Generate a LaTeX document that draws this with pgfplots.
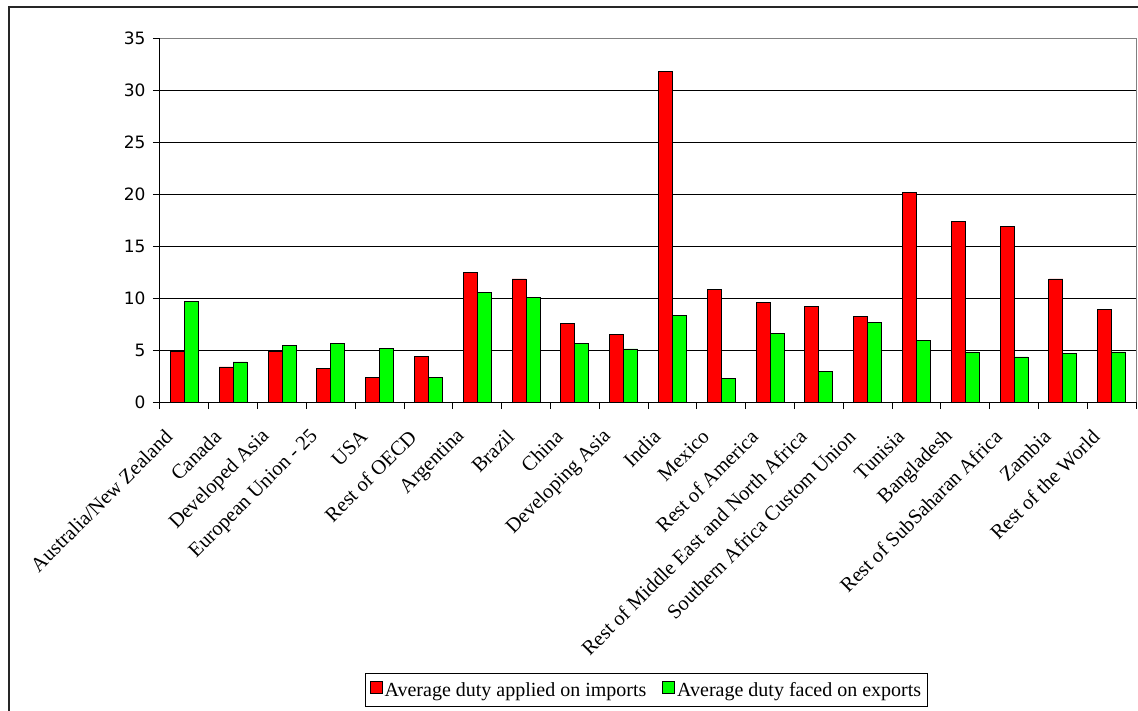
\documentclass[border=0pt]{standalone}
\usepackage{pgfplots}
\pgfplotsset{compat=1.18}
\usepackage{fontspec}
\setmainfont{Liberation Serif}
\newfontfamily\tickfont{DejaVu Sans}
\definecolor{xlred}{HTML}{FF0000}
\definecolor{xlgreen}{HTML}{00FF00}
\begin{document}
\begin{tikzpicture}[x=1pt,y=1pt]
\path[use as bounding box] (0,0) rectangle (1138,-711);
\draw[line width=1.6pt, black!85] (9,-715) -- (9,-7) -- (1142,-7);
\begin{axis}[
  at={(160pt,-402pt)}, anchor=south west,
  scale only axis, width=976pt, height=364pt,
  ybar=0pt, bar width=14pt,
  xmin=-0.5, xmax=19.5, ymin=0, ymax=35,
  enlargelimits=false, clip=false,
  axis x line=bottom, axis y line=left,
  axis line style={-, black, line width=1pt},
  xtick={-0.27,0.73,...,18.8},
  xticklabels={Australia/New Zealand, Canada, Developed Asia, European Union - 25, USA, Rest of OECD, Argentina, Brazil, China, Developing Asia, India, Mexico, Rest of America, Rest of Middle East and North Africa, Southern Africa Custom Union, Tunisia, Bangladesh, Rest of SubSaharan Africa, Zambia, Rest of the World},
  major x tick style={draw=none},
  minor xtick={-0.5,0.5,...,19.5},
  minor x tick style={black, line width=1pt},
  ytick={0,5,...,35},
  y tick style={black, line width=1pt},
  tick align=outside, major tick length=7pt, minor tick length=7pt,
  ymajorgrids, major grid style={black, line width=0.8pt},
  /pgf/number format/assume math mode=true,
  yticklabel style={font=\tickfont\fontsize{17}{17}\selectfont, xshift=-4pt},
  xticklabel style={rotate=45, anchor=east, font=\fontsize{20.5}{20.5}\selectfont},
  xticklabel shift=22pt,
  legend style={at={(axis description cs:0.4985,-0.7435)}, anchor=north,
    legend columns=2, draw=black, line width=0.8pt, inner xsep=4pt, inner ysep=7pt,
    font=\fontsize{20}{20}\selectfont,
    /tikz/every even column/.append style={column sep=14pt}},
  legend image code/.code={\draw[#1, line width=0.8pt] (0pt,-4pt) rectangle (12pt,8pt);},
]
\addplot[fill=xlred, draw=black, line width=0.9pt] coordinates {
(0,4.87) (1,3.37) (2,4.87) (3,3.24) (4,2.37) (5,4.36) (6,12.5) (7,11.83) (8,7.56) (9,6.47)
(10,31.76) (11,10.8) (12,9.55) (13,9.2) (14,8.2) (15,20.19) (16,17.37) (17,16.86) (18,11.83) (19,8.94)};
\addplot[fill=xlgreen, draw=black, line width=0.9pt] coordinates {
(0,9.68) (1,3.85) (2,5.45) (3,5.61) (4,5.19) (5,2.37) (6,10.54) (7,10.06) (8,5.61) (9,5.1)
(10,8.33) (11,2.24) (12,6.57) (13,2.98) (14,7.69) (15,5.93) (16,4.81) (17,4.33) (18,4.71) (19,4.81)};
\legend{Average duty applied on imports, Average duty faced on exports}
\draw[gray, line width=1pt] (rel axis cs:0,1) -- (rel axis cs:1,1) -- (rel axis cs:1,0);
\end{axis}
\end{tikzpicture}
\end{document}
